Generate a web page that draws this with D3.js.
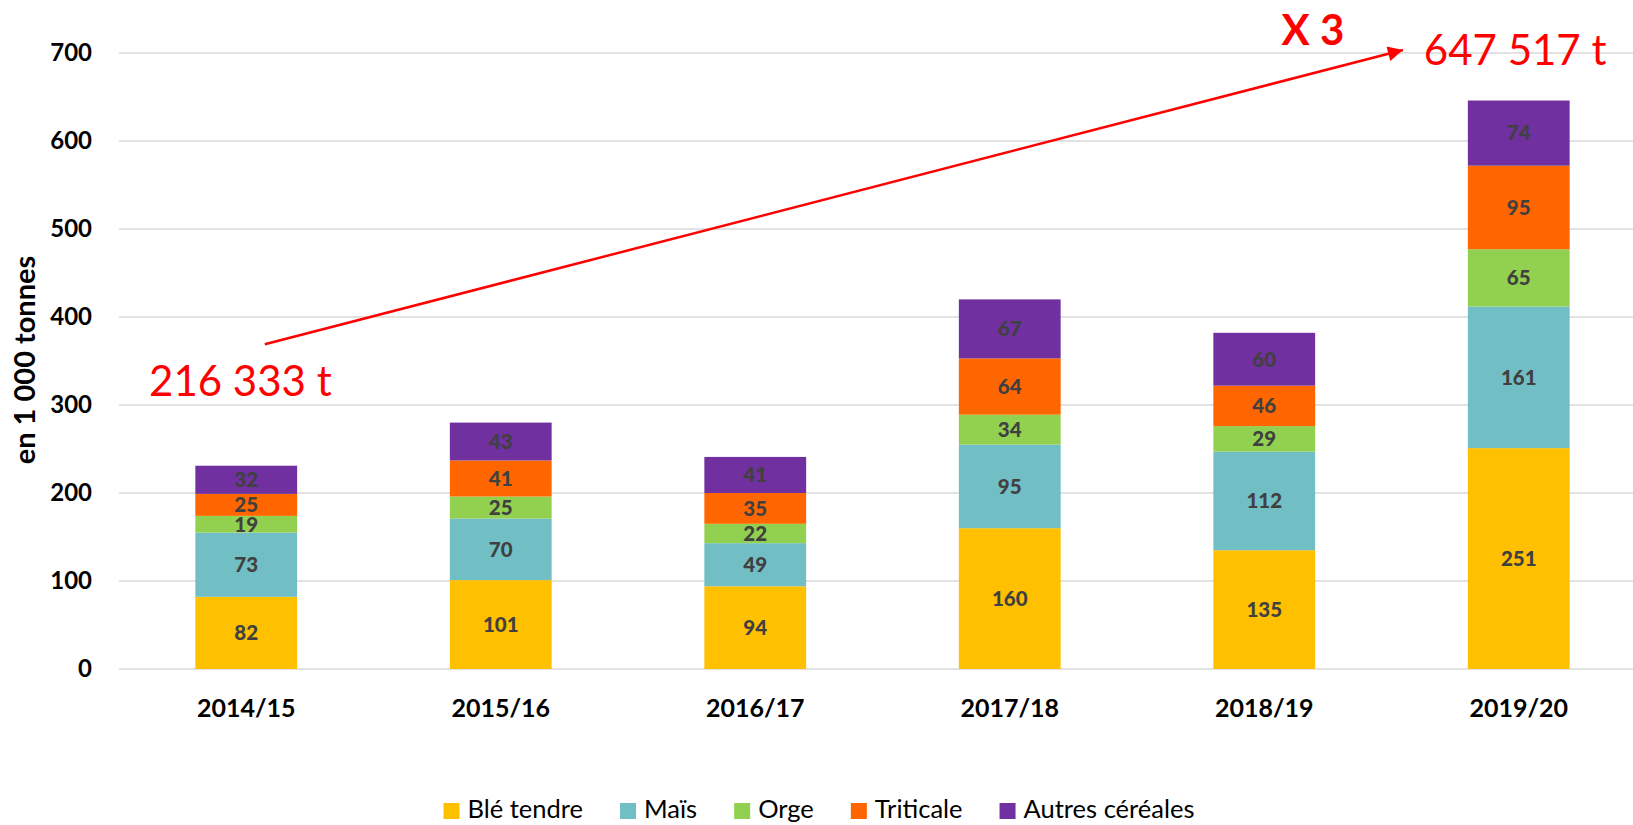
<!DOCTYPE html>
<html lang="fr">
<head>
<meta charset="utf-8">
<title>Céréales</title>
<script src="https://d3js.org/d3.v7.min.js"></script>
<style>
  body { margin: 0; background: #fff; }
  svg { display: block; font-family: Lato, "Open Sans", sans-serif; }
</style>
</head>
<body>
<div id="chart"></div>
<script>
// campagnes et séries (en 1 000 tonnes)
var years = ["2014/15", "2015/16", "2016/17", "2017/18", "2018/19", "2019/20"];
var seriesNames = ["Blé tendre", "Maïs", "Orge", "Triticale", "Autres céréales"];
var bleTendre = [82, 101, 94, 160, 135, 251];
var mais = [73, 70, 49, 95, 112, 161];
var orge = [19, 25, 22, 34, 29, 65];
var triticale = [25, 41, 35, 64, 46, 95];
var autres = [32, 43, 41, 67, 60, 74];
var yTicks = [0, 100, 200, 300, 400, 500, 600, 700];
var colors = ["#FFC000", "#71BFC5", "#92D050", "#FF6600", "#7030A0"];

var W = 1633, H = 825;
var svg = d3.select("#chart").append("svg")
  .attr("width", W).attr("height", H);

// table for the stack
var table = years.map(function(y, i) {
  return {year: y, "Blé tendre": bleTendre[i], "Maïs": mais[i], "Orge": orge[i],
    "Triticale": triticale[i], "Autres céréales": autres[i]};
});

var x = d3.scaleBand().domain(years).range([119, 1646])
  .paddingInner(0.6).paddingOuter(0.3);
var y = d3.scaleLinear().domain([0, 700]).range([669, 53]);
// index -> bar centre, used for the annotations
var xi = d3.scaleLinear().domain([0, 5])
  .range([x(years[0]) + x.bandwidth() / 2, x(years[5]) + x.bandwidth() / 2]);

// gridlines
svg.append("g").selectAll("line").data(yTicks).enter().append("line")
  .attr("x1", 119).attr("x2", W)
  .attr("y1", function(d) { return y(d); })
  .attr("y2", function(d) { return y(d); })
  .attr("stroke", "#D9D9D9").attr("stroke-width", 1.4);

// y axis labels
var yAxis = svg.append("g").attr("transform", "translate(92,0)")
  .call(d3.axisLeft(y).tickValues(yTicks).tickSize(0).tickPadding(0));
yAxis.select(".domain").remove();
yAxis.selectAll("text")
  .attr("font-family", "Lato, sans-serif")
  .attr("font-size", 24).attr("font-weight", "bold").attr("fill", "#000")
  .attr("dy", "0.32em");

// y title
svg.append("text")
  .attr("transform", "translate(35,360) rotate(-90)")
  .attr("text-anchor", "middle")
  .attr("font-size", 29).attr("font-weight", "bold")
  .text("en 1 000 tonnes");

// x axis labels
var xAxis = svg.append("g").attr("transform", "translate(0,669)")
  .call(d3.axisBottom(x).tickSize(0).tickPadding(0));
xAxis.select(".domain").remove();
xAxis.selectAll("text")
  .attr("font-family", "Lato, sans-serif")
  .attr("font-size", 25).attr("font-weight", "bold").attr("fill", "#000")
  .attr("y", 48).attr("dy", 0);

// stacked bars
var stacked = d3.stack().keys(seriesNames)(table);
var layers = svg.append("g").selectAll("g").data(stacked).enter().append("g")
  .attr("fill", function(d, i) { return colors[i]; });

layers.selectAll("rect").data(function(d) { return d; }).enter().append("rect")
  .attr("x", function(d) { return x(d.data.year); })
  .attr("width", x.bandwidth())
  .attr("y", function(d) { return y(d[1]); })
  .attr("height", function(d) { return y(d[0]) - y(d[1]); });

layers.selectAll("text").data(function(d) { return d; }).enter().append("text")
  .attr("x", function(d) { return x(d.data.year) + x.bandwidth() / 2; })
  .attr("y", function(d) { return (y(d[0]) + y(d[1])) / 2; })
  .attr("dy", "0.36em")
  .attr("text-anchor", "middle")
  .attr("font-size", 20.5).attr("font-weight", 900).attr("fill", "#404040")
  .text(function(d) { return d[1] - d[0]; });

// annotation: arrow
svg.append("defs").append("marker")
  .attr("id", "head").attr("viewBox", "0 0 10 10")
  .attr("refX", 10).attr("refY", 5)
  .attr("markerWidth", 6.5).attr("markerHeight", 6)
  .attr("markerUnits", "strokeWidth")
  .attr("orient", "auto")
  .append("path").attr("d", "M0,0 L10,5 L0,10 Z").attr("fill", "#FF0000");

svg.append("line")
  .attr("x1", xi(0.073)).attr("y1", y(369))
  .attr("x2", xi(4.545)).attr("y2", y(703.4))
  .attr("stroke", "#FF0000").attr("stroke-width", 2.5)
  .attr("marker-end", "url(#head)");

svg.append("text")
  .attr("x", xi(-0.382)).attr("y", y(310))
  .attr("font-size", 42).attr("fill", "#FF0000")
  .text("216 333 t");

svg.append("text")
  .attr("x", xi(4.627)).attr("y", y(686))
  .attr("font-size", 42).attr("fill", "#FF0000")
  .text("647 517 t");

svg.append("text")
  .attr("x", xi(4.068)).attr("y", y(709))
  .attr("font-size", 42).attr("font-weight", "bold").attr("fill", "#FF0000")
  .text("X 3");

// legend
var legend = svg.append("g");
var lx = 0;
seriesNames.forEach(function(name, i) {
  var g = legend.append("g").attr("transform", "translate(" + lx + ",0)");
  g.append("rect").attr("x", 0).attr("y", 803).attr("width", 16).attr("height", 16)
    .attr("fill", colors[i]);
  var t = g.append("text").attr("x", 24).attr("y", 818)
    .attr("font-size", 25.5).attr("fill", "#000").text(name);
  lx += 24 + t.node().getComputedTextLength() + 37;
});
var legendW = lx - 37;
legend.attr("transform", "translate(" + (819 - legendW / 2) + ",0)");
</script>
</body>
</html>
